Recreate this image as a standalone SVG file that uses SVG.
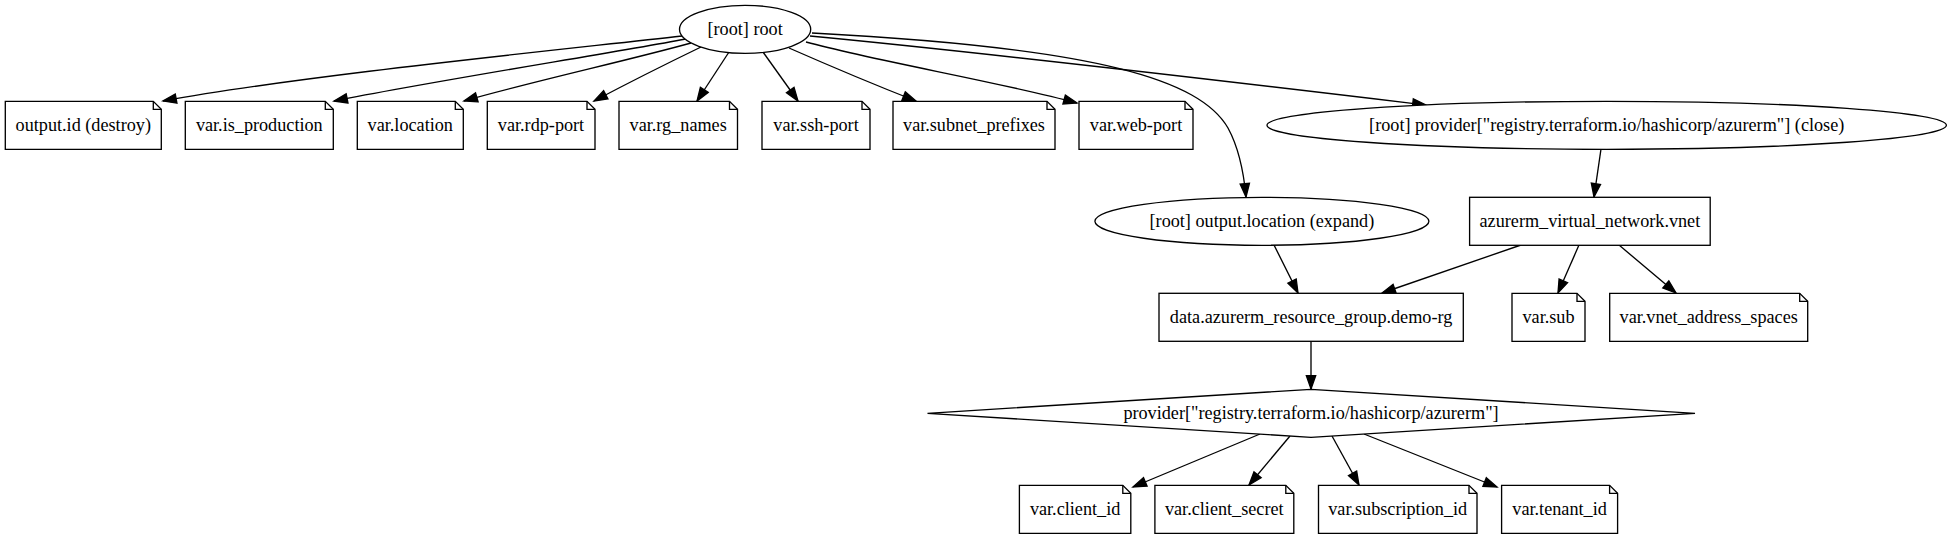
<svg xmlns="http://www.w3.org/2000/svg" width="1952" height="539" viewBox="0 0 1952 539">
<style>
.s{fill:#fff;stroke:#000;stroke-width:1.33}
.f{fill:none;stroke:#000;stroke-width:1.33}
text{font-family:"Liberation Serif","Times New Roman",Times,serif;font-size:18.2px;text-anchor:middle;fill:#000}
.e path{fill:none;stroke:#000;stroke-width:1.33;marker-end:url(#a)}
</style>
<defs>
<marker id="a" markerUnits="userSpaceOnUse" markerWidth="14" markerHeight="10" refX="13.33" refY="4.67" orient="auto" overflow="visible">
<path d="M0,0 L13.33,4.67 L0,9.33 Z" fill="#000" stroke="#000" stroke-width="1.33"/>
</marker>
</defs>
<rect width="1952" height="539" fill="#fff"/>
<g class="e" id="edges">
<path d="M682,36 C540,52 300,76 163,101"/>
<path d="M686,39 C600,55 440,80 334,101"/>
<path d="M691,43 C630,60 530,82 464,101"/>
<path d="M701,47 C670,62 630,82 594,101"/>
<path d="M729,52 L697,101"/>
<path d="M763,52 L798,101"/>
<path d="M789,48 C830,66 870,83 916,101"/>
<path d="M806,42 C880,62 1000,82 1077,103"/>
<path d="M810,36 C1000,54 1250,84 1426,105"/>
<path d="M812,33 C1100,48 1200,80 1228,128 C1240,150 1244,175 1246,197"/>
<path d="M1601,149 L1594,197"/>
<path d="M1274,245 L1298,293"/>
<path d="M1521,245 L1382,293"/>
<path d="M1579,245 L1558,293"/>
<path d="M1619,245 L1676,293"/>
<path d="M1311,341 L1311,389"/>
<path d="M1260,434 L1133,487"/>
<path d="M1290,436 L1249,485"/>
<path d="M1332,436 L1359,485"/>
<path d="M1364,434 L1497,487"/>
</g>
<g id="root"><ellipse class="s" cx="745.1" cy="29.3" rx="65.6" ry="24"/><text x="745.1" y="35.3">[root] root</text></g>
<g id="output_id"><path class="s" d="M5.3,101.3 H153.3 L161.3,109.3 V149.3 H5.3 Z"/><path class="f" d="M153.3,101.3 V109.3 H161.3"/><text x="83.3" y="131.3">output.id (destroy)</text></g>
<g id="var_is_production"><path class="s" d="M185.3,101.3 H325.3 L333.3,109.3 V149.3 H185.3 Z"/><path class="f" d="M325.3,101.3 V109.3 H333.3"/><text x="259.3" y="131.3">var.is_production</text></g>
<g id="var_location"><path class="s" d="M357.3,101.3 H455.3 L463.3,109.3 V149.3 H357.3 Z"/><path class="f" d="M455.3,101.3 V109.3 H463.3"/><text x="410.3" y="131.3">var.location</text></g>
<g id="var_rdp_port"><path class="s" d="M487.3,101.3 H587 L595,109.3 V149.3 H487.3 Z"/><path class="f" d="M587,101.3 V109.3 H595"/><text x="541" y="131.3">var.rdp-port</text></g>
<g id="var_rg_names"><path class="s" d="M619,101.3 H729.5 L737.5,109.3 V149.3 H619 Z"/><path class="f" d="M729.5,101.3 V109.3 H737.5"/><text x="678.2" y="131.3">var.rg_names</text></g>
<g id="var_ssh_port"><path class="s" d="M762,101.3 H862 L870,109.3 V149.3 H762 Z"/><path class="f" d="M862,101.3 V109.3 H870"/><text x="816" y="131.3">var.ssh-port</text></g>
<g id="var_subnet_prefixes"><path class="s" d="M893,101.3 H1047 L1055,109.3 V149.3 H893 Z"/><path class="f" d="M1047,101.3 V109.3 H1055"/><text x="974" y="131.3">var.subnet_prefixes</text></g>
<g id="var_web_port"><path class="s" d="M1079,101.3 H1185 L1193,109.3 V149.3 H1079 Z"/><path class="f" d="M1185,101.3 V109.3 H1193"/><text x="1136" y="131.3">var.web-port</text></g>
<g id="provider_close"><ellipse class="s" cx="1606.7" cy="125.3" rx="339.7" ry="24"/><text x="1606.7" y="131.3">[root] provider["registry.terraform.io/hashicorp/azurerm"] (close)</text></g>
<g id="output_location"><ellipse class="s" cx="1261.9" cy="221.3" rx="167" ry="24"/><text x="1261.9" y="227.3">[root] output.location (expand)</text></g>
<g id="vnet"><rect class="s" x="1469.6" y="197.3" width="240.6" height="48"/><text x="1589.9" y="227.3">azurerm_virtual_network.vnet</text></g>
<g id="data_rg"><rect class="s" x="1159" y="293.3" width="304.3" height="48"/><text x="1311.1" y="323.3">data.azurerm_resource_group.demo-rg</text></g>
<g id="var_sub"><path class="s" d="M1512,293.3 H1577 L1585,301.3 V341.3 H1512 Z"/><path class="f" d="M1577,293.3 V301.3 H1585"/><text x="1548.5" y="323.3">var.sub</text></g>
<g id="var_vnet_address_spaces"><path class="s" d="M1609.7,293.3 H1799.7 L1807.7,301.3 V341.3 H1609.7 Z"/><path class="f" d="M1799.7,293.3 V301.3 H1807.7"/><text x="1708.7" y="323.3">var.vnet_address_spaces</text></g>
<g id="provider"><polygon class="s" points="927.5,413.3 1311,389.3 1695,413.3 1311,437.3"/><text x="1311" y="419.3">provider["registry.terraform.io/hashicorp/azurerm"]</text></g>
<g id="var_client_id"><path class="s" d="M1019.4,485.3 H1122.8 L1130.8,493.3 V533.3 H1019.4 Z"/><path class="f" d="M1122.8,485.3 V493.3 H1130.8"/><text x="1075.1" y="515.3">var.client_id</text></g>
<g id="var_client_secret"><path class="s" d="M1154.9,485.3 H1285.8 L1293.8,493.3 V533.3 H1154.9 Z"/><path class="f" d="M1285.8,485.3 V493.3 H1293.8"/><text x="1224.3" y="515.3">var.client_secret</text></g>
<g id="var_subscription_id"><path class="s" d="M1318.5,485.3 H1469 L1477,493.3 V533.3 H1318.5 Z"/><path class="f" d="M1469,485.3 V493.3 H1477"/><text x="1397.7" y="515.3">var.subscription_id</text></g>
<g id="var_tenant_id"><path class="s" d="M1501.6,485.3 H1609.6 L1617.6,493.3 V533.3 H1501.6 Z"/><path class="f" d="M1609.6,485.3 V493.3 H1617.6"/><text x="1559.6" y="515.3">var.tenant_id</text></g>
</svg>
